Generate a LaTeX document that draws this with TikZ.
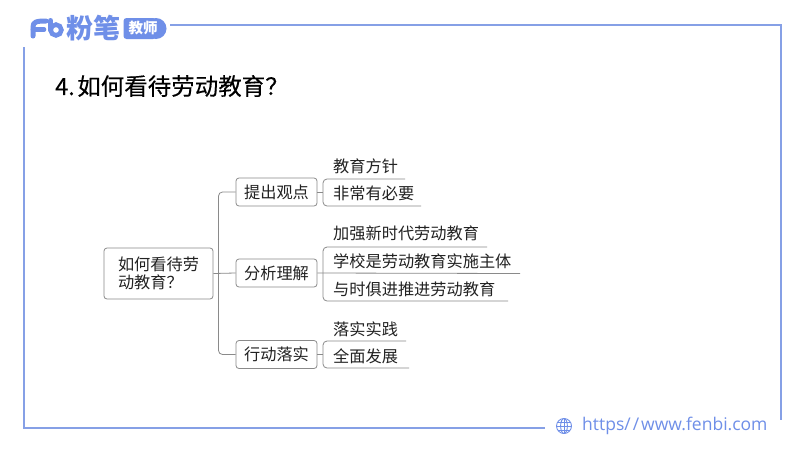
\documentclass[tikz,border=0pt]{standalone}
\usepackage{fontspec}
\setmainfont{Noto Sans CJK SC}
\newfontfamily\cjk{Noto Sans CJK SC}
\newfontfamily\titlefont[FakeBold=0.25]{Noto Sans CJK SC}
\newfontfamily\urlfont{Open Sans}
\definecolor{brandblue}{HTML}{6F8FE8}
\definecolor{framecol}{HTML}{86A0E6}
\definecolor{treeline}{HTML}{8A8A8A}
\definecolor{ink}{HTML}{222222}
\tikzset{
  x=1pt,y=-1pt,
  framepath/.style={draw=framecol,line width=1.5pt},
  branch/.style={draw=treeline,line width=0.8pt},
  boxnode/.style={draw=treeline,line width=0.8pt,rounded corners=3pt,inner sep=0pt,align=left,text=ink,font=\cjk\fontsize{16.2}{18}\selectfont},
  leaf/.style={anchor=west,inner sep=0pt,text=ink,font=\cjk\fontsize{16.2}{18}\selectfont},
}
\begin{document}
\begin{tikzpicture}
\useasboundingbox (0,0) rectangle (800,450);
\fill[white] (0,0) rectangle (800,450);
% frame
\coordinate (ftl) at (170,25); \coordinate (ftr) at (781,25); \coordinate (fbr) at (781,420);
\coordinate (fbe) at (545,428); \coordinate (fbl) at (24,428); \coordinate (flt) at (24,47);
\draw[framepath] (ftl) -- (ftr) -- (fbr);
\draw[framepath] (flt) -- (fbl) -- (fbe);
% logo
\draw[brandblue,line width=5pt,line cap=round,line join=round] (33,36) -- (33,27) .. controls (33,22) and (36,21) .. (46,21);
\draw[brandblue,line width=4.6pt,line cap=round] (33,29.5) -- (44,29.5);
\draw[brandblue,line width=5pt,line cap=round] (50.5,20.5) -- (50.5,30);
\draw[brandblue,line width=4.6pt] (56,30) circle (5.4);
\node[inner sep=0pt,text=brandblue,font=\cjk\bfseries\fontsize{27}{29}\selectfont] (brand) at (93,28.5) {粉笔};
\fill[brandblue,rounded corners=3pt] (123.5,18) rectangle (156,39);
\fill[brandblue] (156,28.5) circle (10.5);
\node[inner sep=0pt,text=white,font=\cjk\bfseries\fontsize{14.5}{16}\selectfont] (sub) at (143,28.5) {教师};
% title
\node[anchor=west,inner sep=0pt,text=black,font=\titlefont\fontsize{23.5}{26}\selectfont] (title) at (55,86) {4.\kern2.5pt 如何看待劳动教育？};
% tree
\node[boxnode,minimum width=109pt,minimum height=51pt] (root) at (158.5,273.5) {如何看待劳\\[0pt]动教育？};
\node[boxnode,minimum width=81pt,minimum height=28pt] (a) at (276.5,192) {提出观点};
\node[boxnode,minimum width=81pt,minimum height=28pt] (b) at (276.5,273) {分析理解};
\node[boxnode,minimum width=81pt,minimum height=28pt] (c) at (276.5,354.5) {行动落实};
\coordinate (ja) at (218.5,273.5);
\draw[branch] (root.east) -- (b.west);
\draw[branch,rounded corners=4pt] (a.west) -- (ja |- a.west) -- (ja |- c.west) -- (c.west);
% leaves
\node[leaf] (l1) at (333,166) {教育方针};
\node[leaf] (l2) at (333,193) {非常有必要};
\node[leaf] (l3) at (333,233) {加强新时代劳动教育};
\node[leaf] (l4) at (333,261) {学校是劳动教育实施主体};
\node[leaf] (l5) at (333,289) {与时俱进推进劳动教育};
\node[leaf] (l6) at (333,329) {落实实践};
\node[leaf] (l7) at (333,356) {全面发展};
\coordinate (e1) at (405,179); \coordinate (e2) at (421,206);
\coordinate (e3) at (487,247); \coordinate (e4) at (520,273.5); \coordinate (e5) at (508,301);
\coordinate (e6) at (406,341); \coordinate (e7) at (409,368);
\coordinate (sp1) at (323,192); \coordinate (sp2) at (323,273.5); \coordinate (sp3) at (323,354.5);
\draw[branch] (a.east) -- (sp1);
\draw[branch,rounded corners=4pt] (e1) -- (sp1 |- e1) -- (sp1 |- e2) -- (e2);
\draw[branch] (b.east) -- (e4);
\draw[branch,rounded corners=4pt] (e3) -- (sp2 |- e3) -- (sp2 |- e5) -- (e5);
\draw[branch] (c.east) -- (sp3);
\draw[branch,rounded corners=4pt] (e6) -- (sp3 |- e6) -- (sp3 |- e7) -- (e7);
% footer
\begin{scope}[brandblue,line width=0.9pt]
\draw (564,426) circle (7.5);
\draw (564,426) ellipse (3.4 and 7.5);
\draw (556.5,426) -- (571.5,426);
\draw (557.6,422) -- (570.4,422);
\draw (557.6,430) -- (570.4,430);
\draw (564,418.5) -- (564,433.5);
\end{scope}
\node[anchor=west,inner sep=0pt,text=brandblue,font=\urlfont\fontsize{17.5}{20}\selectfont] (url) at (582,425.5) {https/\kern2pt/\kern2pt www.fenbi.com};
\end{tikzpicture}
\end{document}
